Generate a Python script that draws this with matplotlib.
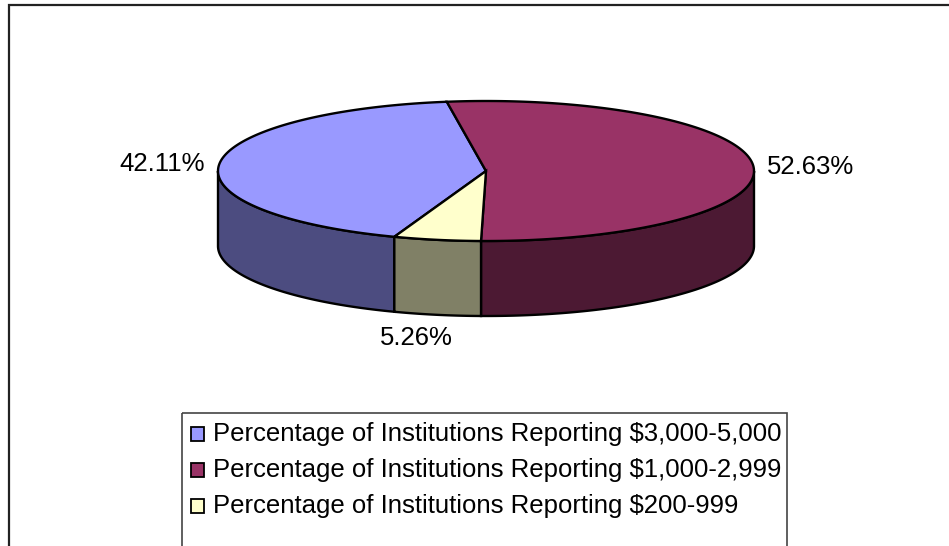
import numpy as np
import matplotlib.pyplot as plt
from matplotlib.patches import Polygon, Rectangle

labels = [
    "Percentage of Institutions Reporting $3,000-5,000",
    "Percentage of Institutions Reporting $1,000-2,999",
    "Percentage of Institutions Reporting $200-999",
]
values = [42.11, 52.63, 5.26]
top_colors = ["#9999FF", "#993366", "#FFFFCC"]
side_colors = ["#4C4C80", "#4C1933", "#808066"]

# pie geometry in pixel space (y grows downward)
cx, cy = 486, 171
rx, ry = 268, 70
depth = 75
first_angle = 250.0  # slices run clockwise from here

plt.rcParams["font.family"] = ["Liberation Sans", "DejaVu Sans"]
fs = 18.5

fig = plt.figure(figsize=(9.49, 5.46), dpi=100)
ax = fig.add_axes([0, 0, 1, 1])
ax.set_xlim(0, 949)
ax.set_ylim(546, 0)
ax.axis("off")


def pt(theta, dy=0.0):
    t = np.radians(theta)
    return cx + rx * np.cos(t), cy - ry * np.sin(t) + dy


fracs = np.array(values) / np.sum(values)
spans = fracs * 360.0
ends = first_angle - np.cumsum(spans)
starts = ends + spans

# side walls (only the front half, sin < 0, is visible)
for a0, a1, col in zip(ends, starts, side_colors):
    for k in range(-2, 2):
        lo = max(a0, 180 + 360 * k)
        hi = min(a1, 360 + 360 * k)
        if hi <= lo:
            continue
        th = np.linspace(lo, hi, 120)
        top = [pt(t) for t in th]
        bot = [pt(t, depth) for t in th[::-1]]
        ax.add_patch(Polygon(top + bot, closed=True, facecolor=col,
                             edgecolor="black", linewidth=1.7, zorder=2))

# top faces
for a0, a1, col in zip(ends, starts, top_colors):
    th = np.linspace(a0, a1, 240)
    verts = [(cx, cy)] + [pt(t) for t in th]
    ax.add_patch(Polygon(verts, closed=True, facecolor=col,
                         edgecolor="black", linewidth=1.7, zorder=3))

# value labels outside each slice
for a0, a1, v in zip(ends, starts, values):
    mid = (a0 + a1) / 2
    c, s = np.cos(np.radians(mid)), np.sin(np.radians(mid))
    x, y = pt(mid, depth if s < 0 else 0)
    if c < -0.5:
        ax.text(x - 14, y, f"{v:.2f}%", ha="right", va="center", fontsize=fs)
    elif c > 0.5:
        ax.text(x + 13, y, f"{v:.2f}%", ha="left", va="center", fontsize=fs)
    else:
        ax.text(x - 21, y + 23, f"{v:.2f}%", ha="center", va="center", fontsize=fs)

# legend box (runs past the bottom of the picture)
ax.add_patch(Rectangle((182, 413), 605, 160, facecolor="none",
                       edgecolor="#444444", linewidth=1.2, zorder=4))
for i, (lab, col) in enumerate(zip(labels, top_colors)):
    y = 434 + 36 * i
    ax.add_patch(Rectangle((191.5, y - 7), 13, 14, facecolor=col,
                           edgecolor="black", linewidth=1.3, zorder=5))
    ax.text(213, y, lab, ha="left", va="center", fontsize=fs, zorder=5)

# outer chart frame, cut off at right and bottom
ax.plot([9.5, 9.5, 960], [560, 5, 5], color="#222222", linewidth=1.6,
        solid_joinstyle="miter", zorder=6)

fig.savefig("out.png", dpi=100)
